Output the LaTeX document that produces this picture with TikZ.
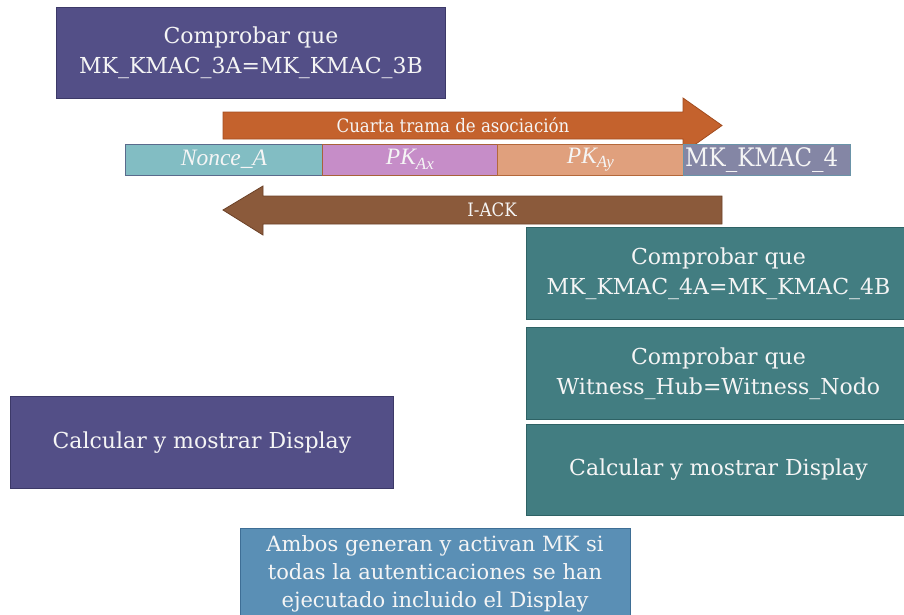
\documentclass[tikz,border=0pt]{standalone}
\usepackage{fontspec}
\setmainfont{DejaVu Serif}
\newfontfamily\fieldfont{Liberation Serif}
\newfontfamily\narrowfont{DejaVu Serif Condensed}
\definecolor{hubpurple}{HTML}{534F87}
\definecolor{hubpurpleline}{HTML}{3C3968}
\definecolor{nodeteal}{HTML}{427D81}
\definecolor{nodetealline}{HTML}{2E6265}
\definecolor{resultblue}{HTML}{5A8FB5}
\definecolor{resultblueline}{HTML}{3E6E95}
\definecolor{fwdorange}{HTML}{C4622D}
\definecolor{fwdorangeline}{HTML}{A24C1F}
\definecolor{ackbrown}{HTML}{8B5A3B}
\definecolor{ackbrownline}{HTML}{6C4228}
\definecolor{noncefill}{HTML}{82BDC3}
\definecolor{noncedraw}{HTML}{5A6B8C}
\definecolor{pkxfill}{HTML}{C68DC8}
\definecolor{pkxdraw}{HTML}{A8623A}
\definecolor{pkyfill}{HTML}{E0A07D}
\definecolor{pkydraw}{HTML}{B4683A}
\definecolor{macfill}{HTML}{8486A5}
\definecolor{macdraw}{HTML}{6A93A8}
\tikzset{
  txt/.style={text=white!96!black},
  block/.style={txt, rectangle, anchor=north west, align=center, inner sep=0pt,
    line width=0.9pt, font=\fontsize{22}{30}\selectfont},
  hubbox/.style={block, fill=hubpurple, draw=hubpurpleline},
  nodebox/.style={block, fill=nodeteal, draw=nodetealline},
  resultbox/.style={block, fill=resultblue, draw=resultblueline},
  field/.style={txt, rectangle, anchor=north west, inner sep=0pt, line width=0.8pt,
    minimum height=31.5pt, font=\fieldfont\itshape\fontsize{23.5}{23.5}\selectfont},
  arrowlabel/.style={txt, inner sep=0pt, font=\narrowfont\fontsize{18.5}{18.5}\selectfont}
}
\begin{document}
\begin{tikzpicture}[x=1pt,y=-1pt]
\useasboundingbox (0,0) rectangle (904,614);
\clip (0,0) rectangle (904,614);

% hub side check
\node[hubbox, minimum width=389pt, minimum height=91pt] (check3) at (56,7)
  {Comprobar que\\MK\_KMAC\_3A=MK\_KMAC\_3B};

% fourth association frame, travelling to the right
\draw[fill=fwdorange, draw=fwdorangeline, line width=0.8pt, line join=miter]
  (223,112) -- (683,112) -- (683,98) -- (722,125.5) -- (683,153) -- (683,139) -- (223,139) -- cycle;
\node[arrowlabel] (fwd) at (453,125.5) {Cuarta trama de asociación};

% frame fields
\node[field, fill=noncefill, draw=noncedraw, minimum width=197pt] (nonce) at (125,143.5) {Nonce\_A};
\node[field, fill=pkxfill, draw=pkxdraw, minimum width=175pt] (pkx) at (322,143.5)
  {PK\raisebox{-0.45ex}{\fontsize{17}{17}\selectfont Ax}};
\node[field, fill=pkyfill, draw=pkydraw, minimum width=186pt] (pky) at (497,143.5)
  {PK\raisebox{-0.45ex}{\fontsize{17}{17}\selectfont Ay}};
\node[field, fill=macfill, draw=macdraw, minimum width=167pt] (mac) at (683,143.5) {};
\node[txt, anchor=west, inner sep=0pt, font=\narrowfont\fontsize{25.5}{25.5}\selectfont] (maclabel)
  at ([xshift=2pt]mac.west) {MK\_KMAC\_4};

% acknowledgement, travelling to the left
\draw[fill=ackbrown, draw=ackbrownline, line width=0.8pt, line join=miter]
  (722,196) -- (263,196) -- (263,186) -- (223,210) -- (263,235) -- (263,224) -- (722,224) -- cycle;
\node[arrowlabel] (ack) at (492,210) {I-ACK};

% node side checks
\node[nodebox, minimum width=384pt, minimum height=92pt] (check4) at (526,227)
  {Comprobar que\\MK\_KMAC\_4A=MK\_KMAC\_4B};
\node[nodebox, minimum width=384pt, minimum height=92pt] (witness) at (526,327)
  {Comprobar que\\Witness\_Hub=Witness\_Nodo};
\node[nodebox, minimum width=384pt, minimum height=91pt] (dispnode) at (526,424)
  {Calcular y mostrar Display};

% hub side display
\node[hubbox, minimum width=383pt, minimum height=92pt] (disphub) at (10,396)
  {Calcular y mostrar Display};

% final step
\node[resultbox, minimum width=390pt, minimum height=100pt] (result) at (240,528) {};
\node[txt, align=center, inner sep=0pt, font=\fontsize{21}{28}\selectfont] (resulttext) at (435,574)
  {Ambos generan y activan MK si\\todas la autenticaciones se han\\ejecutado incluido el Display};
\end{tikzpicture}
\end{document}
